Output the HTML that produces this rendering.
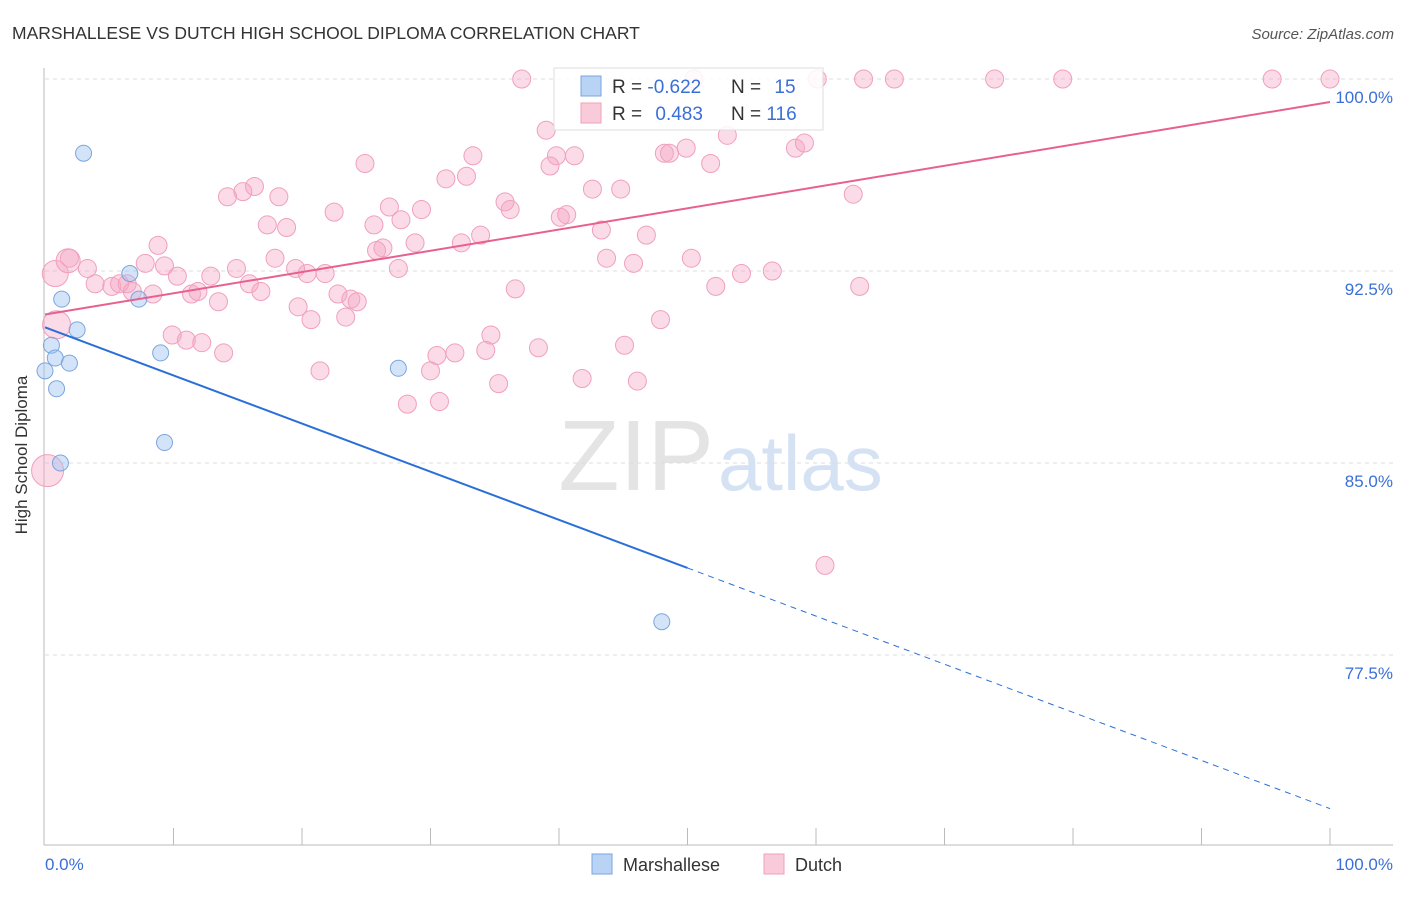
<!DOCTYPE html>
<html><head><meta charset="utf-8"><style>
body{margin:0;background:#fff;font-family:"Liberation Sans",sans-serif;}
svg text{font-family:"Liberation Sans",sans-serif;}
</style></head><body>
<svg width="1406" height="892" viewBox="0 0 1406 892" id="c">
<text x="12" y="39" font-size="17.5" fill="#333">MARSHALLESE VS DUTCH HIGH SCHOOL DIPLOMA CORRELATION CHART</text>
<text x="1394" y="39" font-size="15" fill="#555" text-anchor="end" font-style="italic">Source: ZipAtlas.com</text>
<text x="714" y="490" font-size="100" fill="#e4e4e4" text-anchor="end" font-family="Liberation Serif">ZIP</text>
<text x="718" y="490" font-size="78" fill="#d4e2f4">atlas</text>
<g id="grid"></g><g id="axes"></g><g id="pts"></g><g id="lines"></g>
<text x="27" y="455" font-size="17" fill="#333" text-anchor="middle" transform="rotate(-90 27 455)">High School Diploma</text>
<text x="45" y="870" font-size="17" fill="#3a6fd8">0.0%</text>
<text x="1393" y="870" font-size="17" fill="#3a6fd8" text-anchor="end">100.0%</text>
<g>
<rect x="592" y="854" width="20" height="20" fill="#b9d3f5" stroke="#7aa6e0"/>
<text x="623" y="871" font-size="18" fill="#333">Marshallese</text>
<rect x="764" y="854" width="20" height="20" fill="#f9cbda" stroke="#f0a0b8"/>
<text x="795" y="871" font-size="18" fill="#333">Dutch</text>
</g>
<g>
<rect x="554" y="68" width="269" height="62" fill="#fff" fill-opacity="0.85" stroke="#ddd"/>
<rect x="581" y="76" width="20" height="20" fill="#b9d3f5" stroke="#7aa6e0"/>
<text x="612" y="93" font-size="19" fill="#333">R = <tspan fill="#3a6fd8">-0.622</tspan></text>
<text x="731" y="93" font-size="19" fill="#333">N = <tspan fill="#3a6fd8" dx="8">15</tspan></text>
<rect x="581" y="103" width="20" height="20" fill="#f9cbda" stroke="#f0a0b8"/>
<text x="612" y="120" font-size="19" fill="#333">R = <tspan fill="#3a6fd8" dx="8">0.483</tspan></text>
<text x="731" y="120" font-size="19" fill="#333">N = <tspan fill="#3a6fd8">116</tspan></text>
</g>
</svg>
<script>
const yTicks=[100,92.5,85,77.5];
const yTickLabels=["100.0%","92.5%","85.0%","77.5%"];
const xTicks=[10,20,30,40,50,60,70,80,90,100];
const blueX=[3.0,1.3,2.5,0.5,0.8,1.9,0,0.9,1.2,6.6,7.3,9.0,9.3,27.5,48.0];
const blueY=[97.1,91.4,90.2,89.6,89.1,88.9,88.6,87.9,85.0,92.4,91.4,89.3,85.8,88.7,78.8];
const pinkX=[37.1,50.5,60.1,63.7,66.1,73.9,79.2,95.5,100,39.0,53.1,33.3,39.8,41.2,39.3,48.2,49.9,48.6,51.8,58.4,59.1,24.9,31.2,32.8,16.3,15.4,14.2,18.2,42.6,44.8,62.9,22.5,26.8,29.3,35.8,36.2,40.1,40.6,25.6,27.7,17.3,18.8,43.3,8.8,32.4,33.9,28.8,26.3,25.8,46.8,1.9,3.3,7.8,9.3,10.3,12.9,14.9,17.9,19.5,20.4,21.8,27.5,43.7,45.8,50.3,54.2,56.6,3.9,5.2,5.8,6.4,6.8,8.4,11.4,11.9,15.9,16.8,22.8,23.8,24.3,36.6,52.2,63.4,13.5,19.7,20.7,23.4,47.9,9.9,11.0,12.2,13.9,34.7,30.5,31.9,34.3,38.4,45.1,21.4,30.0,35.3,41.8,46.1,28.2,30.7,60.7,0.8,0.2,0.9,1.8];
const pinkY=[100,100,100,100,100,100,100,100,100,98.0,97.8,97.0,97.0,97.0,96.6,97.1,97.3,97.1,96.7,97.3,97.5,96.7,96.1,96.2,95.8,95.6,95.4,95.4,95.7,95.7,95.5,94.8,95.0,94.9,95.2,94.9,94.6,94.7,94.3,94.5,94.3,94.2,94.1,93.5,93.6,93.9,93.6,93.4,93.3,93.9,93.0,92.6,92.8,92.7,92.3,92.3,92.6,93.0,92.6,92.4,92.4,92.6,93.0,92.8,93.0,92.4,92.5,92.0,91.9,92.0,92.0,91.7,91.6,91.6,91.7,92.0,91.7,91.6,91.4,91.3,91.8,91.9,91.9,91.3,91.1,90.6,90.7,90.6,90.0,89.8,89.7,89.3,90.0,89.2,89.3,89.4,89.5,89.6,88.6,88.6,88.1,88.3,88.2,87.3,87.4,81.0,92.4,84.7,90.4,92.9];
const pinkR=pinkX.map((_,i)=>i>=pinkX.length-4?[13,16,14,12][i-(pinkX.length-4)]:9);
const blueTrend=[90.3,71.5];
const pinkTrend=[90.8,99.1];
const X=v=>45+v*12.85;
const Y=v=>79+(100-v)*25.6;
const NS="http://www.w3.org/2000/svg";
function mk(parent,tag,attrs){const e=document.createElementNS(NS,tag);for(const k in attrs)e.setAttribute(k,attrs[k]);document.getElementById(parent).appendChild(e);return e;}
yTicks.forEach((t,i)=>{
 const l=mk('grid','line',{x1:45,x2:1393,y1:Y(t),y2:Y(t),stroke:'#ddd','stroke-dasharray':'4 4'});
 
 
 const tx=mk('grid','text',{x:1393,y:Y(t)+24,'font-size':17,fill:'#3a6fd8','text-anchor':'end'});
 tx.textContent=yTickLabels[i];
 
 
});
let a=mk('axes','line',{x1:44,x2:44,y1:68,y2:845,stroke:'#bbb'});


a=mk('axes','line',{x1:44,x2:1393,y1:845,y2:845,stroke:'#bbb'});


xTicks.forEach(t=>{const l=mk('axes','line',{x1:X(t),x2:X(t),y1:828,y2:845,stroke:'#bbb'});
 
 });
pinkX.forEach((x,i)=>{const c=mk('pts','circle',{cx:X(x),cy:Y(pinkY[i]),r:pinkR[i],fill:'rgba(245,165,194,0.4)',stroke:'#f0a0bc','stroke-width':1});
 
 });
blueX.forEach((x,i)=>{const c=mk('pts','circle',{cx:X(x),cy:Y(blueY[i]),r:8,fill:'rgba(160,195,240,0.45)',stroke:'#7aa6e0','stroke-width':1});
 
 });
const by=x=>blueTrend[0]+(blueTrend[1]-blueTrend[0])*x/100;
let ln=mk('lines','line',{x1:X(0),y1:Y(by(0)),x2:X(50),y2:Y(by(50)),stroke:'#2a6fd8','stroke-width':2});


ln=mk('lines','line',{x1:X(50),y1:Y(by(50)),x2:X(100),y2:Y(by(100)),stroke:'#2a6fd8','stroke-width':1,'stroke-dasharray':'6 5'});


ln=mk('lines','line',{x1:X(0),y1:Y(pinkTrend[0]),x2:X(100),y2:Y(pinkTrend[1]),stroke:'#e8608f','stroke-width':2});


</script>
</body></html>
